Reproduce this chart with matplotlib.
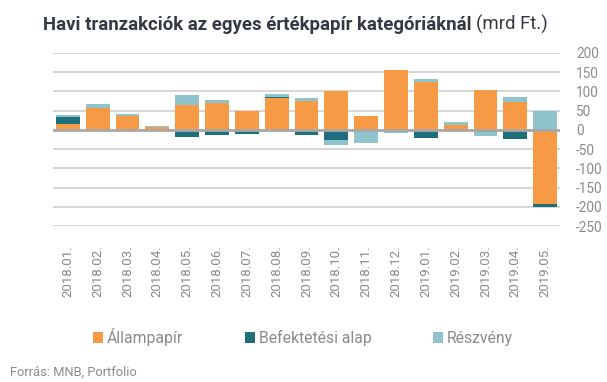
import matplotlib.pyplot as plt
import numpy as np

plt.rcParams['font.family'] = ['Roboto', 'DejaVu Sans']
plt.rcParams['axes.unicode_minus'] = False

months = ['2018.01.', '2018.02.', '2018.03.', '2018.04.', '2018.05.', '2018.06.',
          '2018.07.', '2018.08.', '2018.09.', '2018.10.', '2018.11.', '2018.12.',
          '2019.01.', '2019.02.', '2019.03.', '2019.04.', '2019.05.']
allampapir = [16, 57, 37, 7, 65, 70, 48, 84, 75, 102, 37, 156, 125, 12, 104, 73, -193]
befektetesi = [18, 0, 0, 0, -18, -13, -10, 2, -12, -26, -4, 0, -21, 0, -6, -23, -8]
reszveny = [5, 11, 5, 3, 26, 8, 2, 8, 8, -13, -30, -7, 8, 9, -9, 13, 50]

series = [('Állampapír', allampapir, '#f79a45'),
          ('Befektetési alap', befektetesi, '#1e6e7b'),
          ('Részvény', reszveny, '#90c4cd')]

gray = '#8a8a8a'

fig = plt.figure(figsize=(6.07, 3.82), dpi=100)
ax = fig.add_axes([53 / 607, 1 - 226 / 382, (560 - 53) / 607, (226 - 53) / 382])

x = np.arange(len(months))
pos = np.zeros(len(months))
neg = np.zeros(len(months))
handles = []
for name, vals, col in series:
    v = np.array(vals, dtype=float)
    bottom = np.where(v >= 0, pos, neg)
    h = ax.bar(x, v, 0.8, bottom=bottom, color=col, label=name, zorder=3)
    handles.append(h)
    pos = pos + np.where(v > 0, v, 0)
    neg = neg + np.where(v < 0, v, 0)

ax.set_xlim(-0.5, len(months) - 0.5)
ax.set_ylim(-250, 200)
ax.set_yticks(np.arange(-250, 201, 50))
ax.yaxis.tick_right()
ax.yaxis.grid(True, color='#cfcfcf', linewidth=1.2, zorder=0)
ax.axhline(0, color='#a8a8a8', linewidth=2, zorder=4)
for s in ax.spines.values():
    s.set_visible(False)
ax.tick_params(axis='y', length=0, pad=11.5, labelsize=9.8, labelcolor=gray)
ax.tick_params(axis='x', length=0, pad=14, labelsize=9.5, labelcolor=gray)
ax.set_xticks(x)
ax.set_xticklabels(months, rotation=90)
for lab in ax.get_yticklabels():
    lab.set_horizontalalignment('left')

fig.legend(handles=handles, loc='center', bbox_to_anchor=(303 / 607, 1 - 337 / 382),
           ncol=3, frameon=False, fontsize=11.3, labelcolor=gray,
           handlelength=0.65, handleheight=0.65, handletextpad=0.25, columnspacing=3.9)

t1 = fig.text(43 / 607, 1 - 30 / 382, 'Havi tranzakciók az egyes értékpapír kategóriáknál',
              fontsize=13.4, fontweight='bold', color='#333a44', va='baseline')
fig.canvas.draw()
bb = t1.get_window_extent()
fig.text((bb.x1 + 5) / 607, 1 - 30 / 382, '(mrd Ft.)', fontsize=13.4,
         color='#333a44', va='baseline')

fig.text(10 / 607, 1 - 372 / 382, 'Forrás: MNB, Portfolio', fontsize=9.3,
         color=gray, va='center')

fig.savefig('out.png', dpi=100)
